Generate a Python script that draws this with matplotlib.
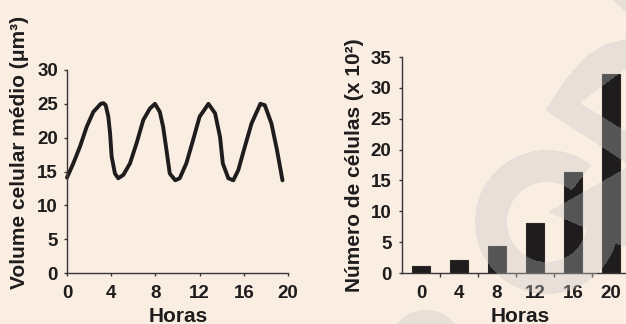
import numpy as np
import matplotlib
matplotlib.use("Agg")
import matplotlib.pyplot as plt
from matplotlib.path import Path

# ---- data -------------------------------------------------------------
hours = [0.0, 0.57, 1.18, 1.78, 2.38, 3.05, 3.3, 3.5, 3.74, 3.9, 4.04, 4.34,
         4.64, 5.1, 5.7, 6.3, 6.9, 7.5, 7.96, 8.4, 8.7, 9.0, 9.3, 9.8, 10.2,
         10.8, 11.4, 12.0, 12.8, 13.4, 13.85, 14.1, 14.6, 15.05, 15.5, 16.1,
         16.7, 17.5, 17.9, 18.5, 19.0, 19.5]
volume = [14.1, 16.2, 18.7, 21.6, 23.8, 25.0, 25.1, 24.8, 23.1, 20.6, 17.2,
          14.7, 14.0, 14.5, 16.2, 19.2, 22.6, 24.3, 25.0, 23.8, 21.6, 18.2,
          14.7, 13.7, 14.0, 16.2, 19.6, 23.1, 25.0, 23.6, 20.1, 16.2, 14.0,
          13.7, 15.2, 18.7, 22.1, 25.0, 24.8, 22.1, 18.2, 13.7]

bar_labels = ["0", "4", "8", "12", "16", "20"]
cell_counts = [1.2, 2.1, 4.4, 8.1, 16.3, 32.2]

vol_ticks = [0, 5, 10, 15, 20, 25, 30]
hour_ticks = [0, 4, 8, 12, 16, 20]
count_ticks = [0, 5, 10, 15, 20, 25, 30, 35]

# ---- style ------------------------------------------------------------
W, H = 626, 324
BG = "#faeee2"
INK = "#1e1c1c"
AX = "#3a3636"
FONT = "Liberation Sans"
TICK_SIZE = 13.5
LABEL_SIZE = 15

plt.rcParams["font.family"] = [FONT, "DejaVu Sans"]
plt.rcParams["font.weight"] = "bold"

fig = plt.figure(figsize=(W / 100, H / 100), dpi=100, facecolor=BG)


def fx(px):
    return px / W


def fy(py):
    return 1 - py / H


def style_axes(ax):
    ax.set_facecolor("none")
    for s in ("top", "right"):
        ax.spines[s].set_visible(False)
    for s in ("left", "bottom"):
        ax.spines[s].set_color(AX)
        ax.spines[s].set_linewidth(1.0)
    ax.tick_params(axis="both", which="both", color=AX, width=1.0,
                   length=2.5, labelsize=TICK_SIZE, labelcolor=INK)
    for lab in ax.get_xticklabels() + ax.get_yticklabels():
        lab.set_fontweight("bold")


# ---- left panel: mean cell volume ------------------------------------
ax1 = fig.add_axes([fx(67), fy(273), fx(221), 203 / H])
ax1.plot(hours, volume, color=INK, lw=2.8, solid_joinstyle="round",
         solid_capstyle="round", clip_on=False)
ax1.set_xlim(0, 20)
ax1.set_ylim(0, 30)
ax1.set_xticks(hour_ticks)
ax1.set_yticks(vol_ticks)
style_axes(ax1)
ax1.tick_params(axis="x", pad=6)
ax1.tick_params(axis="y", pad=4)

# ---- right panel: cell count -----------------------------------------
ax2 = fig.add_axes([fx(402), fy(273), fx(224), 216 / H])
xpos = np.arange(len(bar_labels))
ax2.bar(xpos, cell_counts, width=0.48, color=INK, edgecolor="#2a2626",
        linewidth=0.8)
ax2.set_xlim(-0.5, (W - 402) / 38 - 0.5)
ax2.set_ylim(0, 35)
ax2.set_yticks(count_ticks)
ax2.set_xticks(xpos)
ax2.set_xticklabels(bar_labels)
ax2.set_xticks(xpos[:-1] + 0.5, minor=True)
style_axes(ax2)
ax2.tick_params(axis="x", which="major", length=0, pad=9)
ax2.tick_params(axis="x", which="minor", length=3)
ax2.tick_params(axis="y", pad=5)

# ---- axis titles ------------------------------------------------------
fig.text(fx(20), fy(152), "Volume celular médio (μm³)", rotation=90,
         ha="center", va="center", fontsize=LABEL_SIZE, fontweight="bold",
         color=INK)
fig.text(fx(354), fy(165), "Número de células (x 10²)", rotation=90,
         ha="center", va="center", fontsize=LABEL_SIZE, fontweight="bold",
         color=INK)
fig.text(fx(178), fy(316), "Horas", ha="center", va="center",
         fontsize=LABEL_SIZE, fontweight="bold", color=INK)
fig.text(fx(520), fy(316), "Horas", ha="center", va="center",
         fontsize=LABEL_SIZE, fontweight="bold", color=INK)

# ---- faint logo watermark over the page -------------------------------
yy, xx = np.mgrid[0:H, 0:W] + 0.5
mask = np.zeros((H, W), dtype=bool)

# ring with an opening toward the upper right
cx, cy = 547, 222
d = np.hypot(xx - cx, yy - cy)
ang = np.degrees(np.arctan2(cy - yy, xx - cx)) % 360
ring = (d >= 40) & (d <= 72) & ~((ang > 12) & (ang < 52))
mask |= ring

pts = np.column_stack([xx.ravel(), yy.ravel()])


def poly(verts):
    return Path(verts).contains_points(pts).reshape(H, W)


# inner arm of the logo
mask |= poly([(548, 212), (640, 160), (640, 250), (600, 240), (585, 228)])
# chevron in the upper right
mask |= poly([(545, 110), (565, 80), (585, 57), (605, 44), (640, 36),
              (640, 58), (580, 103), (640, 140), (640, 172)])
# corner piece
mask |= poly([(610, -2), (640, -2), (640, 24)])
# round blob near the lower edge
mask |= np.hypot(xx - 426, yy - 348) <= 38

overlay = np.zeros((H, W, 4))
overlay[..., :3] = 198 / 255
overlay[..., 3] = np.where(mask, 0.34, 0.0)
fig.figimage(overlay, xo=0, yo=0, origin="upper", zorder=10)

fig.savefig("out.png", dpi=100, facecolor=BG)
